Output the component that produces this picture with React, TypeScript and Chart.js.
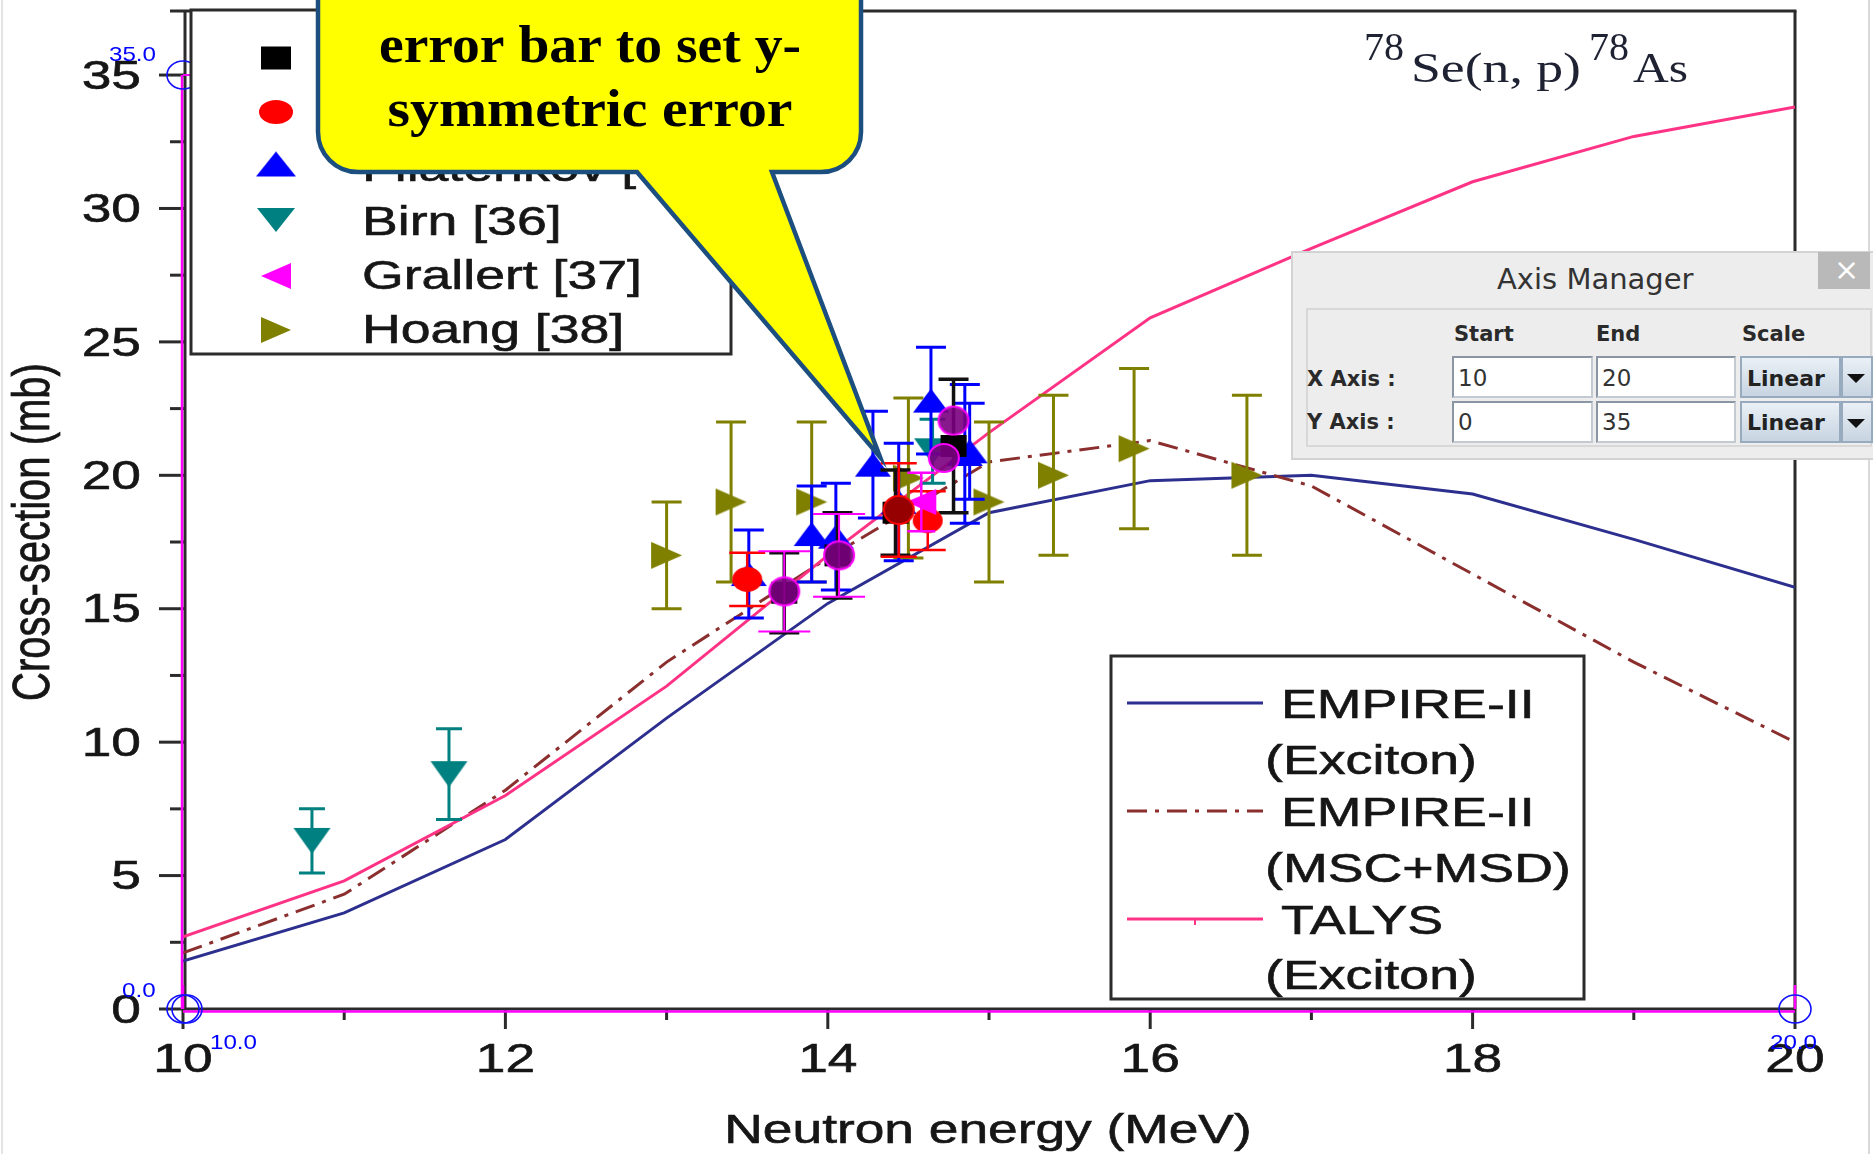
import React, { useEffect, useRef } from 'react';
import { Chart, registerables } from 'chart.js';

Chart.register(...registerables);

const W = 1873;
const H = 1154;

// ---------------- model curves ----------------
const modelEnergy = [10, 11, 12, 13, 14, 15, 16, 17, 18, 19, 20];
const empireExciton = [1.8, 3.6, 6.35, 10.9, 15.2, 18.6, 19.8, 20.0, 19.3, 17.6, 15.8];
const empireMscMsd = [2.1, 4.3, 8.2, 13.0, 16.9, 20.5, 21.3, 19.6, 16.3, 13.0, 10.0];
const talysExciton = [2.7, 4.8, 8.0, 12.1, 17.0, 21.6, 25.9, 28.5, 31.0, 32.7, 33.8];

// ---------------- experimental data ----------------
const kasugaiE = [13.73, 14.06, 14.42, 14.78];
const kasugaiXS = [15.6, 17.0, 18.6, 21.1];
const kasugaiErr = [1.5, 1.6, 1.6, 2.5];

const ikedaE = [13.5, 14.44, 14.62];
const ikedaXS = [16.1, 18.7, 18.3];
const ikedaErr = [1.0, 1.75, 1.1];

const filatenkovE = [13.51, 13.9, 14.05, 14.28, 14.44, 14.64, 14.85, 14.88];
const filatenkovXS = [16.3, 17.8, 17.7, 20.4, 19.0, 22.8, 20.8, 20.9];
const filatenkovErr = [1.65, 1.8, 2.0, 2.0, 2.2, 2.0, 2.6, 1.8];

const birnE = [10.8, 11.65, 14.65];
const birnXS = [6.3, 8.8, 20.9];
const birnErr = [1.2, 1.7, 1.2];

const grallertE = [14.58];
const grallertXS = [19.0];
const grallertErr = [1.1];

const hoangE = [13.0, 13.4, 13.9, 14.5, 15.0, 15.4, 15.9, 16.6];
const hoangXS = [17.0, 19.0, 19.0, 19.9, 19.0, 20.0, 21.0, 20.0];
const hoangErr = [2, 3, 3, 3, 3, 3, 3, 3];

// points picked in the digitizer
const pickedE = [13.73, 14.07, 14.72, 14.78];
const pickedXS = [15.65, 17.0, 20.65, 22.05];
const pickedErr = [1.5, 1.55, 0, 0];
const pickedRedE = [14.44];
const pickedRedXS = [18.7];

// ---------------- axes / labels ----------------
const xMin = 10;
const xMax = 20;
const yMin = 0;
const yMax = 37.4;
const xMajorTicks = [10, 12, 14, 16, 18, 20];
const xMinorTicks = [11, 13, 15, 17, 19];
const yMajorTicks = [0, 5, 10, 15, 20, 25, 30, 35];
const yMinorTicks = [2.5, 7.5, 12.5, 17.5, 22.5, 27.5, 32.5];
const xTitle = 'Neutron energy (MeV)';
const yTitle = 'Cross-section (mb)';

const expLabels = ['Kasugai [33]', 'Ikeda [34]', 'Filatenkov [35]', 'Birn [36]', 'Grallert [37]', 'Hoang [38]'];
const modelLabels = [
  ['EMPIRE-II', '(Exciton)'],
  ['EMPIRE-II', '(MSC+MSD)'],
  ['TALYS', '(Exciton)'],
];

const calibX = [10, 10, 20];
const calibY = [35, 0, 0];
const calibText = ['35.0', '0.0', '10.0', '20.0'];

const calloutLines = ['error bar to set y-', 'symmetric error'];

const SANS = '"Liberation Sans", Arial, Helvetica, sans-serif';
const SERIF = '"Liberation Serif", "Times New Roman", serif';
const PANEL = '"DejaVu Sans", Verdana, sans-serif';

const C_NAVY = '#2d2f8f';
const C_DASH = '#8b2e2e';
const C_PINK = '#ff3385';
const C_TEXT = '#161616';

function makeMarker(shape: string, fill: string, w: number, h: number, stroke?: string, lw = 0) {
  const pad = 3;
  const c = document.createElement('canvas');
  c.width = Math.ceil(w + pad * 2);
  c.height = Math.ceil(h + pad * 2);
  const g = c.getContext('2d')!;
  g.translate(pad, pad);
  g.beginPath();
  if (shape === 'square') g.rect(0, 0, w, h);
  else if (shape === 'circle') g.ellipse(w / 2, h / 2, w / 2, h / 2, 0, 0, Math.PI * 2);
  else if (shape === 'up') { g.moveTo(w / 2, 0); g.lineTo(w, h); g.lineTo(0, h); g.closePath(); }
  else if (shape === 'down') { g.moveTo(0, 0); g.lineTo(w, 0); g.lineTo(w / 2, h); g.closePath(); }
  else if (shape === 'left') { g.moveTo(0, h / 2); g.lineTo(w, 0); g.lineTo(w, h); g.closePath(); }
  else if (shape === 'right') { g.moveTo(w, h / 2); g.lineTo(0, 0); g.lineTo(0, h); g.closePath(); }
  g.fillStyle = fill;
  g.fill();
  if (stroke) {
    g.strokeStyle = stroke;
    g.lineWidth = lw;
    g.stroke();
  }
  return c;
}

function txt(ctx: CanvasRenderingContext2D, s: string, x: number, cy: number, size: number, sx: number,
  align: CanvasTextAlign = 'left', color = C_TEXT, weight = '', family = SANS) {
  ctx.save();
  ctx.font = `${weight} ${size}px ${family}`;
  ctx.fillStyle = color;
  ctx.textAlign = align;
  ctx.textBaseline = 'alphabetic';
  ctx.translate(x, cy + size * 0.358);
  ctx.scale(sx, 1);
  ctx.fillText(s, 0, 0);
  ctx.strokeStyle = color;
  ctx.lineWidth = 0.6;
  ctx.strokeText(s, 0, 0);
  ctx.restore();
}

function fitText(ctx: CanvasRenderingContext2D, s: string, x: number, baseline: number, width: number,
  font: string, color: string, align: 'left' | 'center' = 'left') {
  ctx.save();
  ctx.font = font;
  const m = ctx.measureText(s).width;
  const sx = width / m;
  ctx.fillStyle = color;
  ctx.textAlign = 'left';
  ctx.textBaseline = 'alphabetic';
  const left = align === 'center' ? x - width / 2 : x;
  ctx.translate(left, baseline);
  ctx.scale(sx, 1);
  ctx.fillText(s, 0, 0);
  ctx.restore();
}

function seg(ctx: CanvasRenderingContext2D, x1: number, y1: number, x2: number, y2: number) {
  ctx.beginPath();
  ctx.moveTo(x1, y1);
  ctx.lineTo(x2, y2);
  ctx.stroke();
}

const pts = (xs: number[], ys: number[]) => xs.map((x, i) => ({ x, y: ys[i] }));

export default function App() {
  const ref = useRef<HTMLCanvasElement>(null);

  useEffect(() => {
    const canvas = ref.current;
    if (!canvas) return;

    const mk = {
      kasugai: makeMarker('square', '#000000', 26, 22),
      ikeda: makeMarker('circle', '#ff0000', 30, 25),
      filatenkov: makeMarker('up', '#0000ff', 36, 24),
      birn: makeMarker('down', '#008080', 37, 26),
      grallert: makeMarker('left', '#ff00ff', 30, 26),
      hoang: makeMarker('right', '#808000', 31, 27),
      picked: makeMarker('circle', 'rgba(122,0,128,0.9)', 30, 28, '#ff00ff', 2),
      pickedRed: makeMarker('circle', 'rgba(139,0,0,0.9)', 30, 28, '#ff0000', 2),
    };
    const legendMk = [
      makeMarker('square', '#000000', 30, 23),
      makeMarker('circle', '#ff0000', 34, 24),
      makeMarker('up', '#0000ff', 40, 25),
      makeMarker('down', '#008080', 38, 24),
      makeMarker('left', '#ff00ff', 30, 26),
      makeMarker('right', '#808000', 30, 26),
    ];

    const scatter = (label: string, xs: number[], ys: number[], errs: number[] | null, marker: HTMLCanvasElement,
      errColor: string, capHalf: number, errWidth: number, order: number) => ({
      type: 'scatter' as const,
      label,
      data: pts(xs, ys),
      showLine: false,
      pointStyle: marker,
      pointRadius: 10,
      order,
      errs,
      errColor,
      capHalf,
      errWidth,
    });

    const line = (label: string, ys: number[], color: string, dash: number[], order: number) => ({
      type: 'scatter' as const,
      label,
      data: pts(modelEnergy, ys),
      showLine: true,
      borderColor: color,
      borderWidth: 3,
      borderDash: dash,
      pointRadius: 0,
      tension: 0,
      order,
    });

    const datasets: any[] = [
      line('EMPIRE-II (Exciton)', empireExciton, C_NAVY, [], 10),
      line('EMPIRE-II (MSC+MSD)', empireMscMsd, C_DASH, [20, 8, 4, 8], 9),
      line('TALYS (Exciton)', talysExciton, C_PINK, [], 8),
      scatter(expLabels[5], hoangE, hoangXS, hoangErr, mk.hoang, '#808000', 15, 3, 7),
      scatter(expLabels[3], birnE, birnXS, birnErr, mk.birn, '#008080', 13, 3, 6),
      scatter(expLabels[2], filatenkovE, filatenkovXS, filatenkovErr, mk.filatenkov, '#0000ff', 15, 3, 5),
      scatter(expLabels[0], kasugaiE, kasugaiXS, kasugaiErr, mk.kasugai, '#111111', 15, 3.5, 4),
      scatter(expLabels[1], ikedaE, ikedaXS, ikedaErr, mk.ikeda, '#ff0000', 18, 2.5, 3),
      scatter(expLabels[4], grallertE, grallertXS, grallertErr, mk.grallert, '#ff00ff', 14, 2.5, 2),
      scatter('picked', pickedE, pickedXS, pickedErr, mk.picked, '#ff00ff', 26, 2, 1),
      scatter('picked-red', pickedRedE, pickedRedXS, null, mk.pickedRed, '#ff0000', 0, 0, 0),
    ];

    const overlay = {
      id: 'overlay',
      beforeDatasetsDraw(chart: any) {
        const ctx: CanvasRenderingContext2D = chart.ctx;
        const xs = chart.scales.x;
        const ys = chart.scales.y;
        const X = (v: number) => xs.getPixelForValue(v);
        const Y = (v: number) => ys.getPixelForValue(v);
        const ca = chart.chartArea;
        ctx.save();
        // faint page edges
        ctx.strokeStyle = '#e4e4e4';
        ctx.lineWidth = 2;
        seg(ctx, 2, 0, 2, H);
        ctx.strokeStyle = '#d9d9d9';
        seg(ctx, 1869, 0, 1869, H);

        ctx.strokeStyle = '#2b2b2b';
        ctx.lineWidth = 3;
        ctx.lineCap = 'butt';
        // frame
        seg(ctx, 170, ca.top, ca.right + 1.5, ca.top);
        seg(ctx, ca.right, ca.top, ca.right, Y(0));
        seg(ctx, X(xMin) + 2, ca.top, X(xMin) + 2, Y(0));
        seg(ctx, X(xMin), Y(0), X(xMax), Y(0));
        // y ticks
        yMajorTicks.forEach((v) => seg(ctx, X(xMin) - 24, Y(v), X(xMin) + 2, Y(v)));
        yMinorTicks.forEach((v) => seg(ctx, X(xMin) - 13, Y(v), X(xMin) + 2, Y(v)));
        // x ticks
        xMajorTicks.forEach((v) => seg(ctx, X(v), Y(0), X(v), Y(0) + 20));
        xMinorTicks.forEach((v) => seg(ctx, X(v), Y(0), X(v), Y(0) + 11));
        // tick labels
        yMajorTicks.forEach((v) => txt(ctx, String(v), X(xMin) - 42, Y(v) - 1, 41, 1.3, 'right'));
        xMajorTicks.forEach((v) => txt(ctx, String(v), X(v), Y(0) + 48, 41, 1.3, 'center'));
        // axis titles
        txt(ctx, xTitle, (X(xMin) + X(xMax)) / 2 - 1, 1128, 41, 1.3, 'center');
        ctx.save();
        ctx.translate(33, 532);
        ctx.rotate(-Math.PI / 2);
        ctx.scale(1, 1.3);
        ctx.font = `40px ${SANS}`;
        ctx.fillStyle = C_TEXT;
        ctx.textAlign = 'center';
        ctx.textBaseline = 'alphabetic';
        ctx.fillText(yTitle, 0, 40 * 0.3);
        ctx.strokeStyle = C_TEXT;
        ctx.lineWidth = 0.6;
        ctx.strokeText(yTitle, 0, 40 * 0.3);
        ctx.restore();
        ctx.restore();
      },
      beforeDatasetDraw(chart: any, args: any) {
        const ds = chart.data.datasets[args.index];
        if (!ds.errs) return;
        const ctx: CanvasRenderingContext2D = chart.ctx;
        const xs = chart.scales.x;
        const ys = chart.scales.y;
        ctx.save();
        ctx.strokeStyle = ds.errColor;
        ctx.lineWidth = ds.errWidth;
        ds.data.forEach((p: any, i: number) => {
          const e = ds.errs[i];
          if (!e) return;
          const px = xs.getPixelForValue(p.x);
          const top = ys.getPixelForValue(p.y + e);
          const bot = ys.getPixelForValue(p.y - e);
          const c = ds.capHalf;
          ctx.beginPath();
          ctx.moveTo(px, top);
          ctx.lineTo(px, bot);
          ctx.moveTo(px - c, top);
          ctx.lineTo(px + c, top);
          ctx.moveTo(px - c, bot);
          ctx.lineTo(px + c, bot);
          ctx.stroke();
        });
        ctx.restore();
      },
      afterDraw(chart: any) {
        const ctx: CanvasRenderingContext2D = chart.ctx;
        const xs = chart.scales.x;
        const ys = chart.scales.y;
        const X = (v: number) => xs.getPixelForValue(v);
        const Y = (v: number) => ys.getPixelForValue(v);
        ctx.save();

        // ---- digitizer calibration overlay ----
        ctx.strokeStyle = '#ff00ff';
        ctx.lineWidth = 2.5;
        seg(ctx, X(xMin) - 1, Y(0), X(xMin) - 1, Y(35));
        seg(ctx, X(xMin), Y(0) + 2.5, X(xMax), Y(0) + 2.5);
        seg(ctx, X(xMax), Y(0), X(xMax), Y(0) - 24);
        seg(ctx, X(xMin), Y(0), X(xMin), Y(0) - 24);
        ctx.lineWidth = 2;
        seg(ctx, X(xMin), Y(35), X(xMin) + 32, Y(35));
        ctx.strokeStyle = '#1010ff';
        ctx.lineWidth = 1.6;
        calibX.forEach((cx, i) => {
          const px = X(cx);
          const py = Y(calibY[i]);
          ctx.beginPath();
          ctx.ellipse(px, py, 16, 14, 0, 0, Math.PI * 2);
          ctx.stroke();
          if (i === 1) {
            ctx.beginPath();
            ctx.ellipse(px + 4, py, 15, 14, 0, 0, Math.PI * 2);
            ctx.stroke();
          }
        });
        const blue = (s: string, x: number, base: number) => {
          ctx.save();
          ctx.font = `21px ${SANS}`;
          ctx.fillStyle = '#0000ff';
          ctx.textBaseline = 'alphabetic';
          ctx.translate(x, base);
          ctx.scale(1.15, 1);
          ctx.fillText(s, 0, 0);
          ctx.restore();
        };
        blue(calibText[0], X(10) - 74, Y(35) - 14);
        blue(calibText[1], X(10) - 61, Y(0) - 12);
        blue(calibText[2], X(10) + 27, Y(0) + 40);
        blue(calibText[3], X(20) - 25, Y(0) + 40);

        // ---- experimental legend (top-left) ----
        ctx.fillStyle = '#ffffff';
        ctx.strokeStyle = '#2b2b2b';
        ctx.lineWidth = 3;
        ctx.fillRect(191, 10, 540, 344);
        ctx.strokeRect(191, 10, 540, 344);
        const markRows = [58, 112, 164, 220, 276, 330];
        const textRows = [59, 113, 167, 221, 275, 329];
        legendMk.forEach((m, i) => {
          ctx.drawImage(m, 276 - m.width / 2, markRows[i] - m.height / 2);
          txt(ctx, expLabels[i], 362, textRows[i], 40, 1.34, 'left');
        });

        // ---- model legend (bottom-right) ----
        ctx.fillStyle = '#ffffff';
        ctx.strokeStyle = '#2b2b2b';
        ctx.lineWidth = 3;
        ctx.fillRect(1111, 656, 473, 343);
        ctx.strokeRect(1111, 656, 473, 343);
        const lineRows = [703, 811, 919];
        const subRows = [759, 867, 974];
        const colors = [C_NAVY, C_DASH, C_PINK];
        const dashes = [[], [20, 8, 4, 8], []];
        modelLabels.forEach((lab, i) => {
          ctx.strokeStyle = colors[i];
          ctx.lineWidth = 3;
          ctx.setLineDash(dashes[i]);
          seg(ctx, 1127, lineRows[i], 1263, lineRows[i]);
          ctx.setLineDash([]);
          if (i === 2) {
            ctx.lineWidth = 2;
            seg(ctx, 1195, lineRows[i], 1195, lineRows[i] + 6);
          }
          txt(ctx, lab[0], 1281, lineRows[i], 41, 1.31, 'left');
          txt(ctx, lab[1], 1265, subRows[i], 41, 1.31, 'left');
        });

        // ---- reaction label ----
        fitText(ctx, '78', 1364, 60, 40, `40px ${SERIF}`, '#1f2233');
        fitText(ctx, 'Se(n, p)', 1411, 82, 170, `43px ${SERIF}`, '#1f2233');
        fitText(ctx, '78', 1589, 60, 40, `40px ${SERIF}`, '#1f2233');
        fitText(ctx, 'As', 1633, 82, 55, `43px ${SERIF}`, '#1f2233');

        // ---- callout ----
        const L = 318, R = 861, B = 172, T = -40, r = 40;
        ctx.beginPath();
        ctx.moveTo(L, T);
        ctx.arcTo(L, B, L + r, B, r);
        ctx.lineTo(637, B);
        ctx.lineTo(880, 457);
        ctx.lineTo(772, B);
        ctx.arcTo(R, B, R, B - r, r);
        ctx.lineTo(R, T);
        ctx.closePath();
        ctx.fillStyle = '#ffff00';
        ctx.fill();
        ctx.strokeStyle = '#1c4f80';
        ctx.lineWidth = 4.5;
        ctx.lineJoin = 'miter';
        ctx.stroke();
        fitText(ctx, calloutLines[0], 590, 62, 422, `bold 52px ${SERIF}`, '#000000', 'center');
        fitText(ctx, calloutLines[1], 590, 126, 405, `bold 52px ${SERIF}`, '#000000', 'center');

        ctx.restore();
      },
    };

    const chart = new Chart(canvas, {
      type: 'scatter',
      data: { datasets },
      options: {
        responsive: false,
        animation: false,
        devicePixelRatio: 1,
        events: [],
        layout: { padding: { left: 183, right: 78, top: 10, bottom: 145 } },
        plugins: { legend: { display: false }, tooltip: { enabled: false } },
        scales: {
          x: { type: 'linear', min: xMin, max: xMax, display: false },
          y: { type: 'linear', min: yMin, max: yMax, display: false },
        },
      },
      plugins: [overlay],
    } as any);

    return () => chart.destroy();
  }, []);

  const abs = (l: number, t: number, w: number, h: number): React.CSSProperties => ({
    position: 'absolute', left: l, top: t, width: w, height: h, boxSizing: 'border-box',
  });
  const label = (l: number, t: number, s: string, size: number, bold: boolean, color = '#2a2a2a'): React.ReactNode => (
    <div style={{ position: 'absolute', left: l, top: t, fontFamily: PANEL, fontSize: size, lineHeight: `${size}px`, fontWeight: bold ? 700 : 400, color, whiteSpace: 'nowrap' }}>{s}</div>
  );
  const field: React.CSSProperties = {
    background: '#ffffff', border: '2px solid #8a96a3', borderRightColor: '#c3cad2', borderBottomColor: '#c3cad2',
  };
  const combo: React.CSSProperties = {
    background: 'linear-gradient(#eaf0f6, #c7d4e1)', border: '2px solid #98aabd',
  };
  const arrow = (l: number, t: number) => (
    <div style={{ position: 'absolute', left: l, top: t, width: 0, height: 0, borderLeft: '9px solid transparent', borderRight: '9px solid transparent', borderTop: '9px solid #111' }} />
  );

  return (
    <div style={{ position: 'fixed', left: 0, top: 0, width: W, height: H, background: '#ffffff', overflow: 'hidden' }}>
      <canvas ref={ref} width={W} height={H} style={{ position: 'absolute', left: 0, top: 0, width: W, height: H }} />
      {/* Axis Manager panel */}
      <div style={{ ...abs(1291, 251, 582, 209), background: '#ededed', border: '2px solid #d3d3d3', borderRight: 'none' }} />
      {label(1497, 265, 'Axis Manager', 29, false, '#333333')}
      <div style={{ ...abs(1818, 252, 52, 37), background: '#b9b9b9' }} />
      {label(1834, 255, '×', 30, false, '#ffffff')}
      <div style={{ ...abs(1306, 308, 566, 139), border: '2px solid #d8d8d8' }} />
      {label(1454, 324, 'Start', 21, true)}
      {label(1596, 324, 'End', 21, true)}
      {label(1742, 324, 'Scale', 21, true)}
      {label(1307, 369, 'X Axis :', 21, true)}
      {label(1307, 412, 'Y Axis :', 21, true)}
      <div style={{ ...abs(1452, 356, 141, 42), ...field }} />
      <div style={{ ...abs(1596, 356, 140, 42), ...field }} />
      <div style={{ ...abs(1740, 356, 101, 42), ...combo }} />
      <div style={{ ...abs(1841, 356, 32, 42), ...combo }} />
      <div style={{ ...abs(1452, 401, 141, 42), ...field }} />
      <div style={{ ...abs(1596, 401, 140, 42), ...field }} />
      <div style={{ ...abs(1740, 401, 101, 42), ...combo }} />
      <div style={{ ...abs(1841, 401, 32, 42), ...combo }} />
      {label(1458, 367, '10', 23, false, '#333')}
      {label(1602, 367, '20', 23, false, '#333')}
      {label(1458, 411, '0', 23, false, '#333')}
      {label(1602, 411, '35', 23, false, '#333')}
      {label(1747, 368, 'Linear', 22, true, '#222')}
      {label(1747, 412, 'Linear', 22, true, '#222')}
      {arrow(1847, 374)}
      {arrow(1847, 419)}
    </div>
  );
}
